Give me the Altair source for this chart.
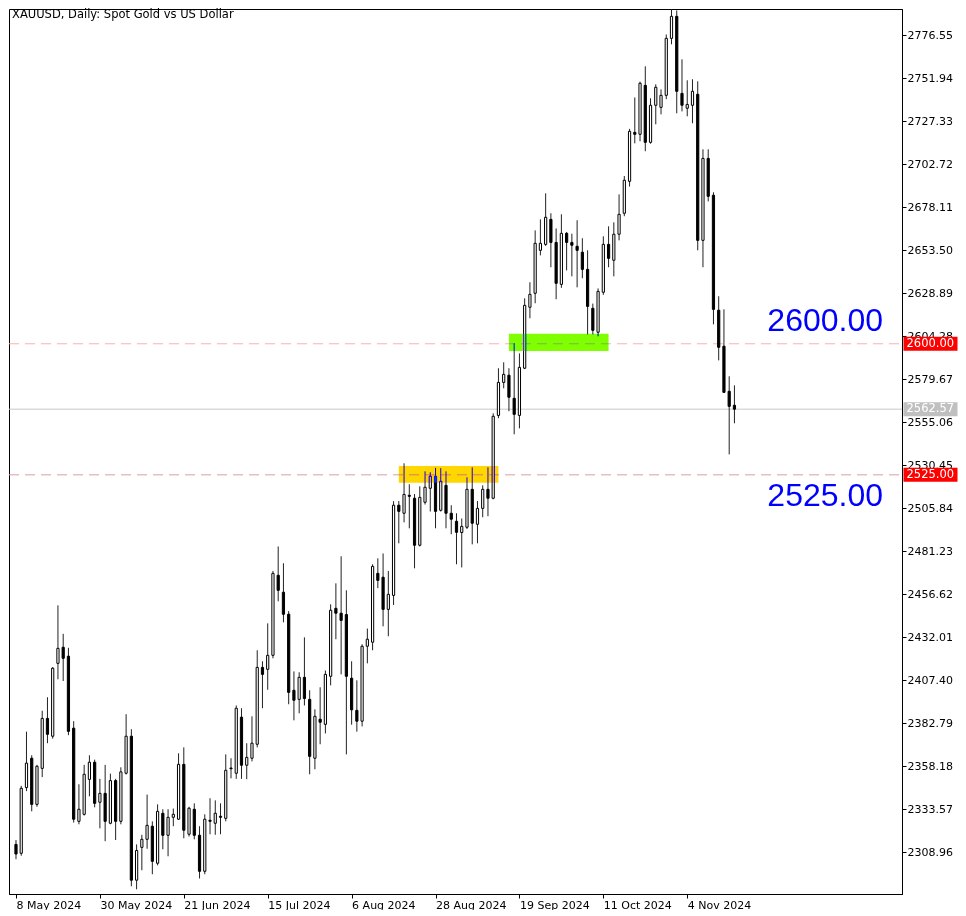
import altair as alt
import pandas as pd

# ---------------- data ----------------
dates = [d.strftime("%Y-%m-%d") for d in pd.bdate_range("2024-05-08", "2024-11-15")]

opens = [2313.5, 2308.4, 2346.0, 2362.8, 2336.4, 2357.0, 2385.6, 2375.4, 2417.1, 2426.3,
         2421.2, 2380.0, 2326.7, 2330.7, 2350.7, 2360.5, 2337.6, 2342.7, 2325.6, 2350.0,
         2326.7, 2354.2, 2375.4, 2293.0, 2311.8, 2316.4, 2323.9, 2302.7, 2331.3, 2318.7,
         2329.0, 2327.9, 2359.3, 2319.3, 2333.6, 2318.7, 2298.1, 2327.3, 2325.6, 2329.6,
         2328.4, 2357.2, 2354.2, 2386.3, 2358.8, 2362.8, 2370.8, 2414.8, 2413.7, 2421.7,
         2467.5, 2457.8, 2445.2, 2401.7, 2396.5, 2409.1, 2396.5, 2362.8, 2385.1, 2382.2,
         2409.7, 2448.6, 2445.8, 2445.0, 2408.6, 2390.2, 2384.0, 2426.9, 2429.2, 2468.6,
         2466.4, 2448.0, 2456.0, 2507.6, 2503.0, 2513.3, 2511.6, 2484.7, 2509.3, 2517.3,
         2524.2, 2504.7, 2519.0, 2503.0, 2498.4, 2492.0, 2495.0, 2516.7, 2496.7, 2505.8,
         2516.7, 2511.6, 2559.0, 2577.9, 2582.0, 2568.8, 2559.0, 2586.0, 2620.9, 2628.9,
         2653.5, 2656.9, 2671.2, 2658.0, 2634.0, 2663.2, 2658.0, 2655.8, 2652.4, 2642.6,
         2620.3, 2606.6, 2629.5, 2656.9, 2647.8, 2662.7, 2674.7, 2693.0, 2721.0, 2719.9,
         2747.9, 2715.3, 2736.5, 2735.3, 2742.2, 2774.8, 2787.4, 2743.3, 2734.8, 2736.5,
         2742.8, 2659.2, 2706.1, 2685.0, 2619.2, 2598.6, 2572.8, 2564.8]

highs = [2316.0, 2347.0, 2378.0, 2364.5, 2359.0, 2390.0, 2397.7, 2415.0, 2450.3, 2434.0,
         2426.0, 2384.0, 2347.9, 2359.0, 2364.5, 2362.0, 2351.0, 2359.0, 2354.0, 2351.0,
         2357.6, 2388.0, 2379.4, 2313.5, 2319.0, 2342.0, 2326.7, 2336.4, 2333.6, 2333.6,
         2334.0, 2365.6, 2369.0, 2335.0, 2337.0, 2323.9, 2330.7, 2339.9, 2338.7, 2337.0,
         2365.0, 2362.8, 2393.0, 2391.4, 2371.4, 2386.8, 2424.6, 2418.3, 2440.0, 2470.0,
         2484.0, 2474.4, 2447.0, 2412.5, 2412.0, 2432.0, 2401.7, 2390.8, 2403.4, 2413.0,
         2450.9, 2462.9, 2478.4, 2458.9, 2418.3, 2407.4, 2428.0, 2437.0, 2473.8, 2477.2,
         2480.0, 2470.0, 2509.9, 2510.0, 2531.6, 2519.6, 2514.0, 2518.4, 2527.0, 2526.5,
         2529.0, 2528.8, 2527.0, 2507.6, 2503.0, 2500.0, 2523.6, 2529.3, 2510.0, 2519.0,
         2529.3, 2560.2, 2586.0, 2589.4, 2586.0, 2600.3, 2594.5, 2626.0, 2635.2, 2664.9,
         2671.2, 2686.1, 2674.7, 2666.0, 2674.1, 2664.0, 2663.0, 2670.7, 2660.4, 2653.5,
         2623.0, 2631.7, 2661.5, 2667.2, 2669.5, 2685.5, 2696.0, 2723.0, 2741.0, 2750.0,
         2758.8, 2740.5, 2748.5, 2745.6, 2777.0, 2791.4, 2790.8, 2762.8, 2750.8, 2751.4,
         2750.2, 2711.3, 2711.3, 2686.7, 2627.2, 2619.7, 2581.4, 2576.2]

lows = [2305.0, 2307.0, 2344.0, 2332.4, 2335.0, 2352.0, 2371.4, 2374.0, 2408.0, 2407.0,
        2376.0, 2326.0, 2325.0, 2330.0, 2341.0, 2334.7, 2322.7, 2315.3, 2325.0, 2316.0,
        2325.0, 2353.5, 2289.5, 2287.8, 2298.7, 2311.0, 2296.4, 2301.5, 2310.7, 2306.7,
        2323.9, 2327.5, 2317.0, 2318.0, 2316.4, 2294.0, 2296.4, 2319.3, 2319.0, 2319.3,
        2326.7, 2351.3, 2351.0, 2351.0, 2350.8, 2361.0, 2369.0, 2391.4, 2402.0, 2420.0,
        2452.6, 2440.6, 2393.7, 2384.5, 2388.5, 2393.0, 2353.6, 2356.5, 2370.8, 2377.0,
        2404.5, 2430.9, 2410.8, 2365.0, 2382.0, 2378.0, 2381.0, 2417.1, 2424.6, 2460.1,
        2438.3, 2432.6, 2450.5, 2485.8, 2497.8, 2494.4, 2471.5, 2484.0, 2508.0, 2504.0,
        2494.4, 2504.0, 2494.4, 2491.0, 2473.8, 2472.0, 2494.0, 2485.2, 2485.8, 2500.7,
        2501.3, 2511.0, 2557.4, 2574.5, 2561.4, 2548.2, 2551.6, 2585.5, 2614.6, 2623.2,
        2650.6, 2656.0, 2643.8, 2625.5, 2632.0, 2642.0, 2638.6, 2632.3, 2637.5, 2605.4,
        2605.4, 2604.3, 2628.0, 2643.8, 2638.6, 2659.2, 2673.0, 2690.0, 2714.7, 2715.9,
        2710.2, 2714.5, 2725.6, 2731.3, 2740.0, 2771.4, 2731.9, 2733.0, 2730.2, 2726.2,
        2653.5, 2643.8, 2681.5, 2611.1, 2590.5, 2572.0, 2536.7, 2554.5]

closes = [2308.0, 2345.6, 2360.0, 2336.4, 2358.2, 2385.6, 2376.5, 2414.3, 2425.7, 2420.0,
          2378.2, 2327.9, 2333.6, 2353.6, 2360.5, 2337.0, 2342.7, 2326.7, 2350.0, 2326.7,
          2355.0, 2375.4, 2293.0, 2310.0, 2316.4, 2324.4, 2303.8, 2332.4, 2318.7, 2329.0,
          2330.7, 2359.3, 2321.6, 2334.2, 2318.7, 2298.1, 2327.9, 2326.7, 2331.3, 2329.0,
          2355.9, 2356.8, 2391.4, 2358.8, 2363.3, 2371.4, 2414.8, 2410.8, 2421.7, 2468.6,
          2458.9, 2445.2, 2400.5, 2396.0, 2409.1, 2397.0, 2363.9, 2386.8, 2383.4, 2410.8,
          2447.5, 2445.8, 2441.7, 2409.7, 2390.5, 2384.0, 2426.9, 2430.9, 2472.6, 2464.6,
          2448.0, 2456.6, 2507.6, 2504.1, 2513.8, 2512.7, 2484.7, 2512.1, 2517.9, 2524.2,
          2504.1, 2521.3, 2503.0, 2499.6, 2492.1, 2495.5, 2516.7, 2497.3, 2505.8, 2516.7,
          2511.6, 2558.5, 2577.9, 2582.5, 2569.4, 2559.6, 2586.5, 2622.0, 2628.3, 2657.5,
          2657.5, 2672.4, 2658.0, 2634.6, 2663.2, 2658.0, 2656.4, 2653.5, 2642.6, 2621.4,
          2607.7, 2630.0, 2656.9, 2648.9, 2662.7, 2674.1, 2693.6, 2721.6, 2719.9, 2749.1,
          2715.3, 2736.5, 2746.8, 2742.2, 2774.8, 2787.4, 2744.5, 2736.5, 2737.0, 2744.5,
          2659.2, 2706.1, 2684.4, 2619.7, 2598.0, 2572.2, 2564.2, 2562.57]

# horizontal levels
level_values = [2600.0, 2525.0]
level_labels = ["2600.00", "2525.00"]
level_colors = ["#ffb0b0", "#d9a0a0"]
current_price = 2562.57

# highlighted zones (start / end bar dates, price band, visible colour)
zone_start = ["2024-08-19", "2024-09-17"]
zone_end = ["2024-09-13", "2024-10-14"]
zone_low = [2520.5, 2595.9]
zone_high = [2530.1, 2605.8]
zone_color = ["#ffd700", "#80ff00"]

# axes
price_ticks = [2308.96, 2333.57, 2358.18, 2382.79, 2407.40, 2432.01, 2456.62, 2481.23,
               2505.84, 2530.45, 2555.06, 2579.67, 2604.28, 2628.89, 2653.50, 2678.11,
               2702.72, 2727.33, 2751.94, 2776.55]
date_tick_labels = ["8 May 2024", "30 May 2024", "21 Jun 2024", "15 Jul 2024", "6 Aug 2024",
                    "28 Aug 2024", "19 Sep 2024", "11 Oct 2024", "4 Nov 2024"]
title_text = "XAUUSD, Daily:  Spot Gold vs US Dollar"

# ---------------- tables ----------------
idx = {d: i for i, d in enumerate(dates)}
bars = pd.DataFrame({"i": list(range(len(dates))), "date": dates,
                     "open": opens, "high": highs, "low": lows, "close": closes})
zones = pd.DataFrame({"x0": [idx[d] for d in zone_start], "x1": [idx[d] for d in zone_end],
                      "lo": zone_low, "hi": zone_high,
                      # drawn with "difference" blending: colour = white - visible colour
                      "inv": ["#%02x%02x%02x" % tuple(255 - int(c[k:k + 2], 16) for k in (1, 3, 5))
                              for c in zone_color]})
levels = pd.DataFrame({"v": level_values, "lab": level_labels, "col": level_colors})
cur = pd.DataFrame({"v": [current_price], "lab": ["%.2f" % current_price]})
title_df = pd.DataFrame({"t": [title_text]})

W, H = 893, 885
FONT = "DejaVu Sans"
xs = alt.Scale(domain=[-0.38, 168.0], nice=False, zero=False)
ys = alt.Scale(domain=[2285.1, 2791.6], nice=False, zero=False)

label_js = "[" + ",".join("'%s'" % s for s in date_tick_labels) + "]"
x_axis = alt.Axis(values=[16 * k for k in range(len(date_tick_labels))],
                  labelExpr=label_js + "[round(datum.value/16)]",
                  orient="bottom", title=None, grid=False, tickSize=4, labelPadding=1,
                  labelAlign="left", labelFlush=False, labelOverlap=False,
                  labelFont=FONT, labelFontSize=11, labelColor="black",
                  domainColor="black", tickColor="black", zindex=1)
y_axis = alt.Axis(values=price_ticks, format=".2f", orient="right", title=None, grid=False,
                  tickSize=4, labelPadding=1, labelFlush=False, labelOverlap=False,
                  labelFont=FONT, labelFontSize=11, labelColor="black",
                  domainColor="black", tickColor="black", zindex=0)


def X(field):
    return alt.X(field, scale=xs, axis=x_axis, title=None)


def Y(field):
    return alt.Y(field, scale=ys, axis=y_axis, title=None)


cur_line = alt.Chart(cur).mark_rule(color="#c8c8c8", strokeWidth=1).encode(
    x=alt.value(0), x2=alt.value(W), y=Y("v:Q"))

level_lines = alt.Chart(levels).mark_rule(strokeWidth=1, strokeDash=[10, 6]).encode(
    x=alt.value(0), x2=alt.value(W), y=Y("v:Q"),
    color=alt.Color("col:N", scale=None))

wicks = alt.Chart(bars).mark_rule(color="#222222", strokeWidth=1).encode(
    x=X("i:Q"), y=Y("low:Q"), y2="high:Q")

bodies = alt.Chart(bars).mark_bar(size=2.2, stroke="black", strokeWidth=1).encode(
    x=X("i:Q"), y=Y("open:Q"), y2="close:Q",
    fill=alt.condition("datum.close >= datum.open", alt.value("white"), alt.value("black")))

zone_rects = alt.Chart(zones).mark_rect(blend="difference").encode(
    x=X("x0:Q"), x2="x1:Q", y=Y("lo:Q"), y2="hi:Q",
    fill=alt.Color("inv:N", scale=None))

big_top = alt.Chart(levels.iloc[[0]]).mark_text(
    font="Liberation Sans", fontSize=32, color="#0000ff", align="right",
    baseline="middle", dy=-23).encode(x=alt.value(874), y=Y("v:Q"), text="lab:N")
big_bot = alt.Chart(levels.iloc[[1]]).mark_text(
    font="Liberation Sans", fontSize=32, color="#0000ff", align="right",
    baseline="middle", dy=21).encode(x=alt.value(874), y=Y("v:Q"), text="lab:N")

TAG = "M-1,-0.2593L1,-0.2593L1,0.2593L-1,0.2593Z"
level_tags = alt.Chart(levels).mark_point(shape=TAG, size=2916, filled=True, opacity=1,
                                          strokeWidth=0, color="#ff0000").encode(
    x=alt.value(W + 28.5), y=Y("v:Q"))
cur_tag = alt.Chart(cur).mark_point(shape=TAG, size=2916, filled=True, opacity=1,
                                    strokeWidth=0, color="#c0c0c0").encode(
    x=alt.value(W + 28.5), y=Y("v:Q"))
tag_text = alt.Chart(pd.concat([levels[["v", "lab"]], cur])).mark_text(
    font=FONT, fontSize=11.5, color="white", align="left", baseline="middle").encode(
    x=alt.value(W + 4.5), y=Y("v:Q"), text="lab:N")

title_mark = alt.Chart(title_df).mark_text(
    font=FONT, fontSize=11.5, color="black", align="left", baseline="middle").encode(
    x=alt.value(3), y=alt.value(6), text="t:N")

chart = alt.layer(
    cur_line, level_lines, wicks, bodies, zone_rects,
    big_top, big_bot, level_tags, cur_tag, tag_text, title_mark
).properties(
    width=W, height=H, padding={"left": 0, "top": 0, "right": 0, "bottom": 0},
    background="white"
).configure_view(stroke="black", strokeWidth=1)

chart.save("out.html", embed_options={"renderer": "svg", "actions": False})
